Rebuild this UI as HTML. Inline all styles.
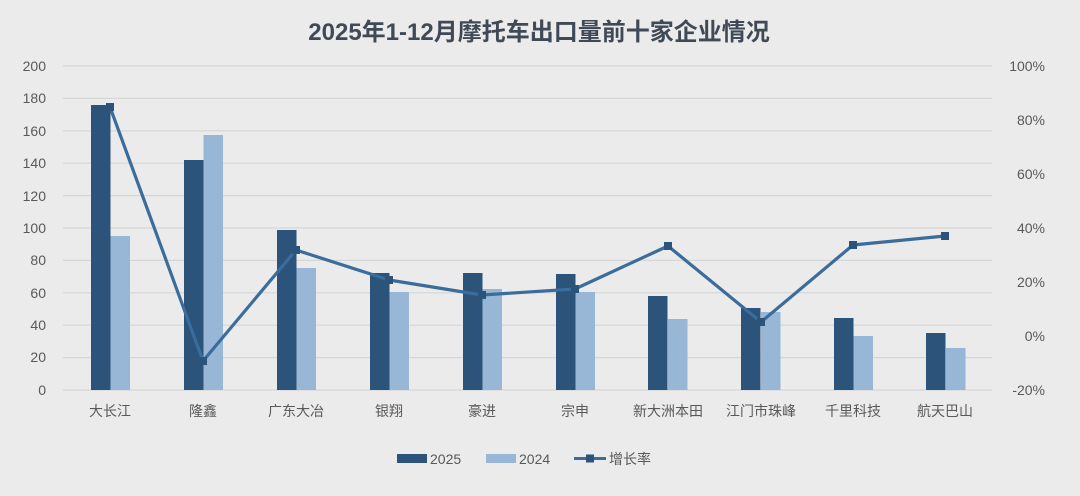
<!DOCTYPE html>
<html><head><meta charset="utf-8"><style>
body{margin:0;background:#ebebeb}
svg{display:block}
text{font-family:"Liberation Sans","Noto Sans CJK SC",sans-serif;fill:#595959}
</style></head><body>
<svg width="1080" height="496" viewBox="0 0 1080 496" xmlns="http://www.w3.org/2000/svg">
<rect width="1080" height="496" fill="#ebebeb"/>
<text x="539" y="40" text-anchor="middle" font-size="24" font-weight="bold" style="fill:#404a56">2025年1-12月摩托车出口量前十家企业情况</text>
<g stroke="#d6d6d6" stroke-width="1.2">
<line x1="63" x2="992" y1="66" y2="66"/><line x1="63" x2="992" y1="98.4" y2="98.4"/>
<line x1="63" x2="992" y1="130.8" y2="130.8"/><line x1="63" x2="992" y1="163.2" y2="163.2"/>
<line x1="63" x2="992" y1="195.6" y2="195.6"/><line x1="63" x2="992" y1="228" y2="228"/>
<line x1="63" x2="992" y1="260.4" y2="260.4"/><line x1="63" x2="992" y1="292.8" y2="292.8"/>
<line x1="63" x2="992" y1="325.2" y2="325.2"/><line x1="63" x2="992" y1="357.6" y2="357.6"/>
<line x1="63" x2="992" y1="390" y2="390"/>
</g>
<g font-size="14" text-anchor="end">
<text x="46" y="71">200</text><text x="46" y="103">180</text><text x="46" y="136">160</text>
<text x="46" y="168">140</text><text x="46" y="201">120</text><text x="46" y="233">100</text>
<text x="46" y="265">80</text><text x="46" y="298">60</text><text x="46" y="330">40</text>
<text x="46" y="362">20</text><text x="46" y="395">0</text>
</g>
<g font-size="14" text-anchor="end">
<text x="1045" y="71">100%</text><text x="1045" y="125">80%</text><text x="1045" y="179">60%</text>
<text x="1045" y="233">40%</text><text x="1045" y="287">20%</text><text x="1045" y="341">0%</text>
<text x="1045" y="395">-20%</text>
</g>
<g fill="#2c5379">
<rect x="91" y="105" width="19.5" height="285"/><rect x="184" y="160" width="19.5" height="230"/>
<rect x="277" y="230" width="19.5" height="160"/><rect x="370" y="273" width="19.5" height="117"/>
<rect x="463" y="273" width="19.5" height="117"/><rect x="556" y="274" width="19.5" height="116"/>
<rect x="648" y="296" width="19.5" height="94"/><rect x="741" y="308" width="19.5" height="82"/>
<rect x="834" y="318" width="19.5" height="72"/><rect x="926" y="333" width="19.5" height="57"/>
</g>
<g fill="#98b7d6">
<rect x="110.5" y="236" width="19.5" height="154"/><rect x="203.5" y="135" width="19.5" height="255"/>
<rect x="296.5" y="268" width="19.5" height="122"/><rect x="389.5" y="292" width="19.5" height="98"/>
<rect x="482.5" y="289" width="19.5" height="101"/><rect x="575.5" y="292" width="19.5" height="98"/>
<rect x="668" y="319" width="19.5" height="71"/><rect x="761" y="312" width="19.5" height="78"/>
<rect x="853.5" y="336" width="19.5" height="54"/><rect x="946" y="348" width="19.5" height="42"/>
</g>
<polyline fill="none" stroke="#3a6d9c" stroke-width="3.2" stroke-linejoin="round" points="110,107 203,361 296,250 389,280 482,295 575,289 668,246 761,322 853,245 945,236"/>
<g fill="#2c5379">
<rect x="106" y="103" width="8" height="8"/><rect x="199" y="357" width="8" height="8"/>
<rect x="292" y="246" width="8" height="8"/><rect x="385" y="276" width="8" height="8"/>
<rect x="478" y="291" width="8" height="8"/><rect x="571" y="285" width="8" height="8"/>
<rect x="664" y="242" width="8" height="8"/><rect x="757" y="318" width="8" height="8"/>
<rect x="849" y="241" width="8" height="8"/><rect x="941" y="232" width="8" height="8"/>
</g>
<g font-size="14" text-anchor="middle">
<text x="110" y="416">大长江</text><text x="203" y="416">隆鑫</text><text x="296" y="416">广东大冶</text>
<text x="389" y="416">银翔</text><text x="482" y="416">豪进</text><text x="575" y="416">宗申</text>
<text x="668" y="416">新大洲本田</text><text x="761" y="416">江门市珠峰</text><text x="853" y="416">千里科技</text>
<text x="945" y="416">航天巴山</text>
</g>
<rect x="397" y="454" width="30" height="9" fill="#2c5379"/>
<text x="430" y="464" font-size="14">2025</text>
<rect x="486" y="454" width="30" height="9" fill="#98b7d6"/>
<text x="519" y="464" font-size="14">2024</text>
<line x1="574" x2="606" y1="458.5" y2="458.5" stroke="#3a6d9c" stroke-width="3"/>
<rect x="586" y="454.5" width="8" height="8" fill="#2c5379"/>
<text x="609" y="464" font-size="14">增长率</text>
</svg>
</body></html>
